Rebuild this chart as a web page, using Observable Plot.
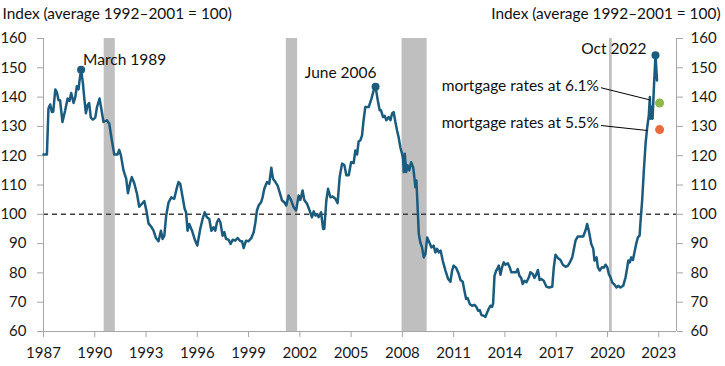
<!DOCTYPE html>
<html><head><meta charset="utf-8">
<script src="https://cdn.jsdelivr.net/npm/d3@7"></script>
<script src="https://cdn.jsdelivr.net/npm/@observablehq/plot@0.6"></script>
<style>body{margin:0;background:#fff} svg{display:block}</style>
</head><body><div id="chart"></div>
<script>
// Monthly-ish index readings (decimal year, value)
const years = [
1987.00,1987.20,1987.29,1987.39,1987.49,1987.57,1987.69,1987.78,1987.88,1987.97,
1988.11,1988.27,1988.41,1988.52,1988.62,1988.76,1988.86,1988.95,1989.05,1989.11,
1989.20,1989.31,1989.38,1989.48,1989.58,1989.67,1989.77,1989.89,1990.03,1990.13,
1990.22,1990.28,1990.38,1990.51,1990.71,1990.85,1991.00,1991.14,1991.33,1991.43,
1991.53,1991.68,1991.84,1991.94,1992.08,1992.17,1992.31,1992.47,1992.60,1992.76,
1992.90,1993.03,1993.15,1993.30,1993.44,1993.58,1993.73,1993.87,1993.97,1994.07,
1994.18,1994.32,1994.48,1994.65,1994.81,1994.90,1995.00,1995.14,1995.26,1995.34,
1995.43,1995.53,1995.69,1995.84,1996.00,1996.17,1996.31,1996.43,1996.56,1996.70,
1996.82,1996.95,1997.05,1997.15,1997.25,1997.35,1997.48,1997.58,1997.68,1997.83,
1997.95,1998.07,1998.22,1998.36,1998.52,1998.62,1998.71,1998.85,1999.00,1999.16,
1999.30,1999.40,1999.49,1999.59,1999.73,1999.82,1999.92,2000.08,2000.21,2000.33,
2000.43,2000.57,2000.70,2000.82,2000.96,2001.09,2001.21,2001.34,2001.48,2001.64,
2001.78,2001.93,2002.03,2002.16,2002.26,2002.42,2002.57,2002.71,2002.81,2002.91,
2003.01,2003.10,2003.24,2003.36,2003.43,2003.55,2003.65,2003.79,2003.92,2004.08,
2004.21,2004.33,2004.47,2004.61,2004.72,2004.86,2005.00,2005.15,2005.25,2005.35,
2005.44,2005.54,2005.64,2005.73,2005.83,2006.03,2006.19,2006.32,2006.43,2006.56,
2006.67,2006.75,2006.87,2006.97,2007.06,2007.20,2007.30,2007.40,2007.49,2007.59,
2007.69,2007.78,2007.88,2007.98,2008.04,2008.08,2008.14,2008.22,2008.31,2008.41,
2008.51,2008.63,2008.70,2008.76,2008.82,2008.86,2008.96,2009.05,2009.15,2009.25,
2009.35,2009.45,2009.58,2009.70,2009.83,2009.93,2010.03,2010.13,2010.24,2010.36,
2010.52,2010.68,2010.81,2010.91,2011.00,2011.15,2011.30,2011.40,2011.53,2011.63,
2011.73,2011.82,2011.94,2012.08,2012.22,2012.33,2012.43,2012.53,2012.63,2012.76,
2012.86,2012.96,2013.05,2013.15,2013.25,2013.31,2013.39,2013.49,2013.55,2013.64,
2013.74,2013.84,2013.93,2014.03,2014.17,2014.28,2014.38,2014.52,2014.66,2014.75,
2014.85,2014.95,2015.04,2015.14,2015.26,2015.40,2015.49,2015.63,2015.73,2015.84,
2015.93,2016.03,2016.13,2016.27,2016.43,2016.57,2016.77,2016.86,2016.96,2017.10,
2017.25,2017.39,2017.55,2017.68,2017.80,2017.94,2018.13,2018.26,2018.42,2018.58,
2018.71,2018.81,2018.91,2019.05,2019.17,2019.24,2019.36,2019.44,2019.55,2019.67,
2019.79,2019.89,2019.99,2020.08,2020.18,2020.28,2020.41,2020.53,2020.63,2020.76,
2020.92,2021.06,2021.16,2021.22,2021.31,2021.39,2021.49,2021.58,2021.68,2021.78,
2021.88,2021.94,2022.03,2022.13,2022.23,2022.33,2022.42,2022.48,2022.52,2022.58,
2022.64,2022.71,2022.81,2022.90
];
const index = [
120.4,120.4,136.1,137.5,134.9,135.0,142.6,141.7,138.9,138.9,
131.5,135.5,139.5,138.7,141.4,138.0,140.0,143.7,142.6,145.7,
149.3,144.6,140.0,134.5,137.2,138.0,133.0,132.3,133.0,136.6,
138.3,139.5,136.1,131.5,132.1,130.9,125.2,120.4,120.4,122.0,
120.1,115.0,112.1,107.2,111.0,112.7,110.6,107.0,102.6,103.6,
104.5,101.0,96.8,95.8,94.4,91.9,90.8,94.4,91.6,92.7,
99.6,104.1,105.8,105.3,109.2,111.0,110.4,105.8,101.9,100.7,
94.4,96.7,94.4,91.6,89.3,95.0,98.4,100.7,99.0,98.4,
94.4,95.6,94.4,97.3,98.4,97.3,92.7,93.9,91.6,91.3,
89.9,91.3,91.0,91.9,90.8,90.8,88.5,91.0,90.8,91.9,
93.9,97.3,101.3,103.0,104.1,105.8,108.7,111.0,110.4,115.9,
112.1,111.0,109.8,107.5,104.7,104.1,103.0,106.4,104.9,102.4,
101.3,106.4,104.9,108.1,104.9,103.6,101.3,99.0,101.0,99.6,
100.1,99.0,100.7,95.0,95.0,104.7,108.7,105.8,106.1,105.3,
103.8,112.7,117.3,116.7,113.3,113.3,117.8,117.5,121.8,120.4,
124.9,125.2,126.9,132.1,136.6,136.6,139.5,142.3,143.5,138.9,
135.5,135.5,133.2,133.6,132.1,133.2,132.1,134.4,134.9,131.5,
128.6,126.3,122.9,120.7,119.0,114.4,120.7,114.4,116.7,115.0,
117.8,116.1,112.7,109.2,111.5,106.5,93.3,90.4,88.7,85.3,
86.5,92.1,90.4,88.7,89.3,87.0,88.2,87.0,87.6,84.2,
80.8,77.9,77.0,80.8,82.5,81.7,79.6,77.6,77.0,73.9,
71.1,71.4,69.4,68.8,69.1,68.4,67.1,67.3,65.6,65.4,
65.0,66.5,67.7,68.8,68.4,69.6,79.0,80.8,81.3,82.5,
79.4,82.1,83.6,82.8,83.3,81.9,80.2,80.2,80.2,81.3,
79.0,78.3,76.2,77.3,76.8,78.5,80.2,79.6,78.3,79.6,
81.0,77.6,77.9,77.3,75.3,75.0,75.3,81.9,86.2,85.1,
84.4,82.8,82.1,82.4,83.6,85.3,91.0,92.4,92.4,92.4,
94.4,96.7,94.4,89.9,88.2,84.2,85.3,81.9,80.8,81.9,
81.8,82.8,81.9,79.6,78.5,76.8,76.0,75.0,75.6,75.0,
75.6,78.5,81.9,84.2,83.6,85.3,84.4,87.0,89.9,92.1,
92.7,97.9,104.7,115.0,124.1,129.8,133.8,140.0,132.6,136.6,
132.6,142.3,154.3,145.7
];
const recessionStart = [1990.55, 2001.21, 2007.98, 2020.12];
const recessionEnd   = [1991.20, 2001.87, 2009.45, 2020.28];
const peakLabels = ["March 1989", "June 2006", "Oct 2022"];
const peakYears  = [1989.20, 2006.43, 2022.81];
const peakValues = [149.3, 143.5, 154.3];
const scenarioLabels = ["mortgage rates at 6.1%", "mortgage rates at 5.5%"];
const scenarioYears  = [2023.05, 2023.05];
const scenarioValues = [138.0, 128.9];
const leaderFromYear = [2019.62, 2019.62];
const leaderFromValue = [143.2, 130.3];
const leaderToYear = [2022.51, 2022.34];
const leaderToValue = [139.0, 128.6];
const yTicks = [60, 70, 80, 90, 100, 110, 120, 130, 140, 150, 160];
const xTicks = [1987, 1990, 1993, 1996, 1999, 2002, 2005, 2008, 2011, 2014, 2017, 2020, 2023];
const axisTitle = "Index (average 1992–2001 = 100)";

const lineColor = "#1b5b7d";
const scenarioColors = ["#8db84a", "#ea6a3b"];
const gray = "#a6a6a6";

const series = years.map((y, i) => ({year: y, value: index[i]}));
const recessions = recessionStart.map((s, i) => ({start: s, end: recessionEnd[i]}));
const peaks = peakLabels.map((l, i) => ({label: l, year: peakYears[i], value: peakValues[i]}));
const scenarios = scenarioLabels.map((l, i) => ({label: l, year: scenarioYears[i], value: scenarioValues[i], color: scenarioColors[i],
  fx: leaderFromYear[i], fy: leaderFromValue[i], tx: leaderToYear[i], ty: leaderToValue[i]}));
const xMax = 2024.04;

const chart = Plot.plot({
  width: 725, height: 366,
  marginLeft: 43, marginRight: 49, marginTop: 38, marginBottom: 35,
  style: {fontFamily: "Lato, 'Open Sans', sans-serif", fontSize: "15px", color: "#1a1a1a", background: "#fff"},
  x: {domain: [1987, xMax], label: null},
  y: {domain: [60, 160], label: null},
  marks: [
    Plot.rect(recessions, {x1: "start", x2: "end", y1: 60, y2: 160, fill: "#bfbfbf"}),
    Plot.ruleY([100], {stroke: "#404040", strokeWidth: 1.5, strokeDasharray: "5,4"}),
    Plot.ruleX([1987, xMax], {stroke: gray, strokeWidth: 1}),
    Plot.ruleY([60], {stroke: gray, strokeWidth: 1}),
    Plot.axisX({ticks: xTicks, tickFormat: "d", tickSize: 6, tickPadding: 10, stroke: gray}),
    Plot.axisY({anchor: "left", ticks: yTicks, tickSize: 6, tickPadding: 11, stroke: gray}),
    Plot.axisY({anchor: "right", ticks: yTicks, tickSize: 6, tickPadding: 8, stroke: gray}),
    Plot.line(series, {x: "year", y: "value", stroke: lineColor, strokeWidth: 2.5, strokeLinejoin: "round"}),
    Plot.link(scenarios, {x1: "fx", y1: "fy", x2: "tx", y2: "ty", stroke: "#000", strokeWidth: 1}),
    Plot.dot(peaks, {x: "year", y: "value", r: 4, fill: lineColor}),
    Plot.dot(scenarios, {x: "year", y: "value", r: 4.5, fill: "color"}),
    Plot.text(peaks.filter(d => d.label === "March 1989"), {x: "year", y: "value", text: "label", textAnchor: "start", dx: 2, dy: -10, fill: "#111", fontSize: 15.5}),
    Plot.text(peaks.filter(d => d.label === "June 2006"), {x: "year", y: "value", text: "label", textAnchor: "end", dx: 1, dy: -14, fill: "#111", fontSize: 15.5}),
    Plot.text(peaks.filter(d => d.label === "Oct 2022"), {x: "year", y: "value", text: "label", textAnchor: "end", dx: -9, dy: -6.5, fill: "#111", fontSize: 15.5}),
    Plot.text(scenarios, {x: "fx", y: "fy", text: "label", textAnchor: "end", dx: -2, dy: -2, fill: "#111", fontSize: 15.5}),
    Plot.text([axisTitle], {frameAnchor: "top-left", textAnchor: "start", lineAnchor: "middle", dx: -41, dy: -24, fill: "#111", fontSize: 15.4}),
    Plot.text([axisTitle], {frameAnchor: "top-right", textAnchor: "end", lineAnchor: "middle", dx: 44, dy: -24, fill: "#111", fontSize: 15.4})
  ]
});
document.getElementById("chart").append(chart);
</script>
</body></html>
